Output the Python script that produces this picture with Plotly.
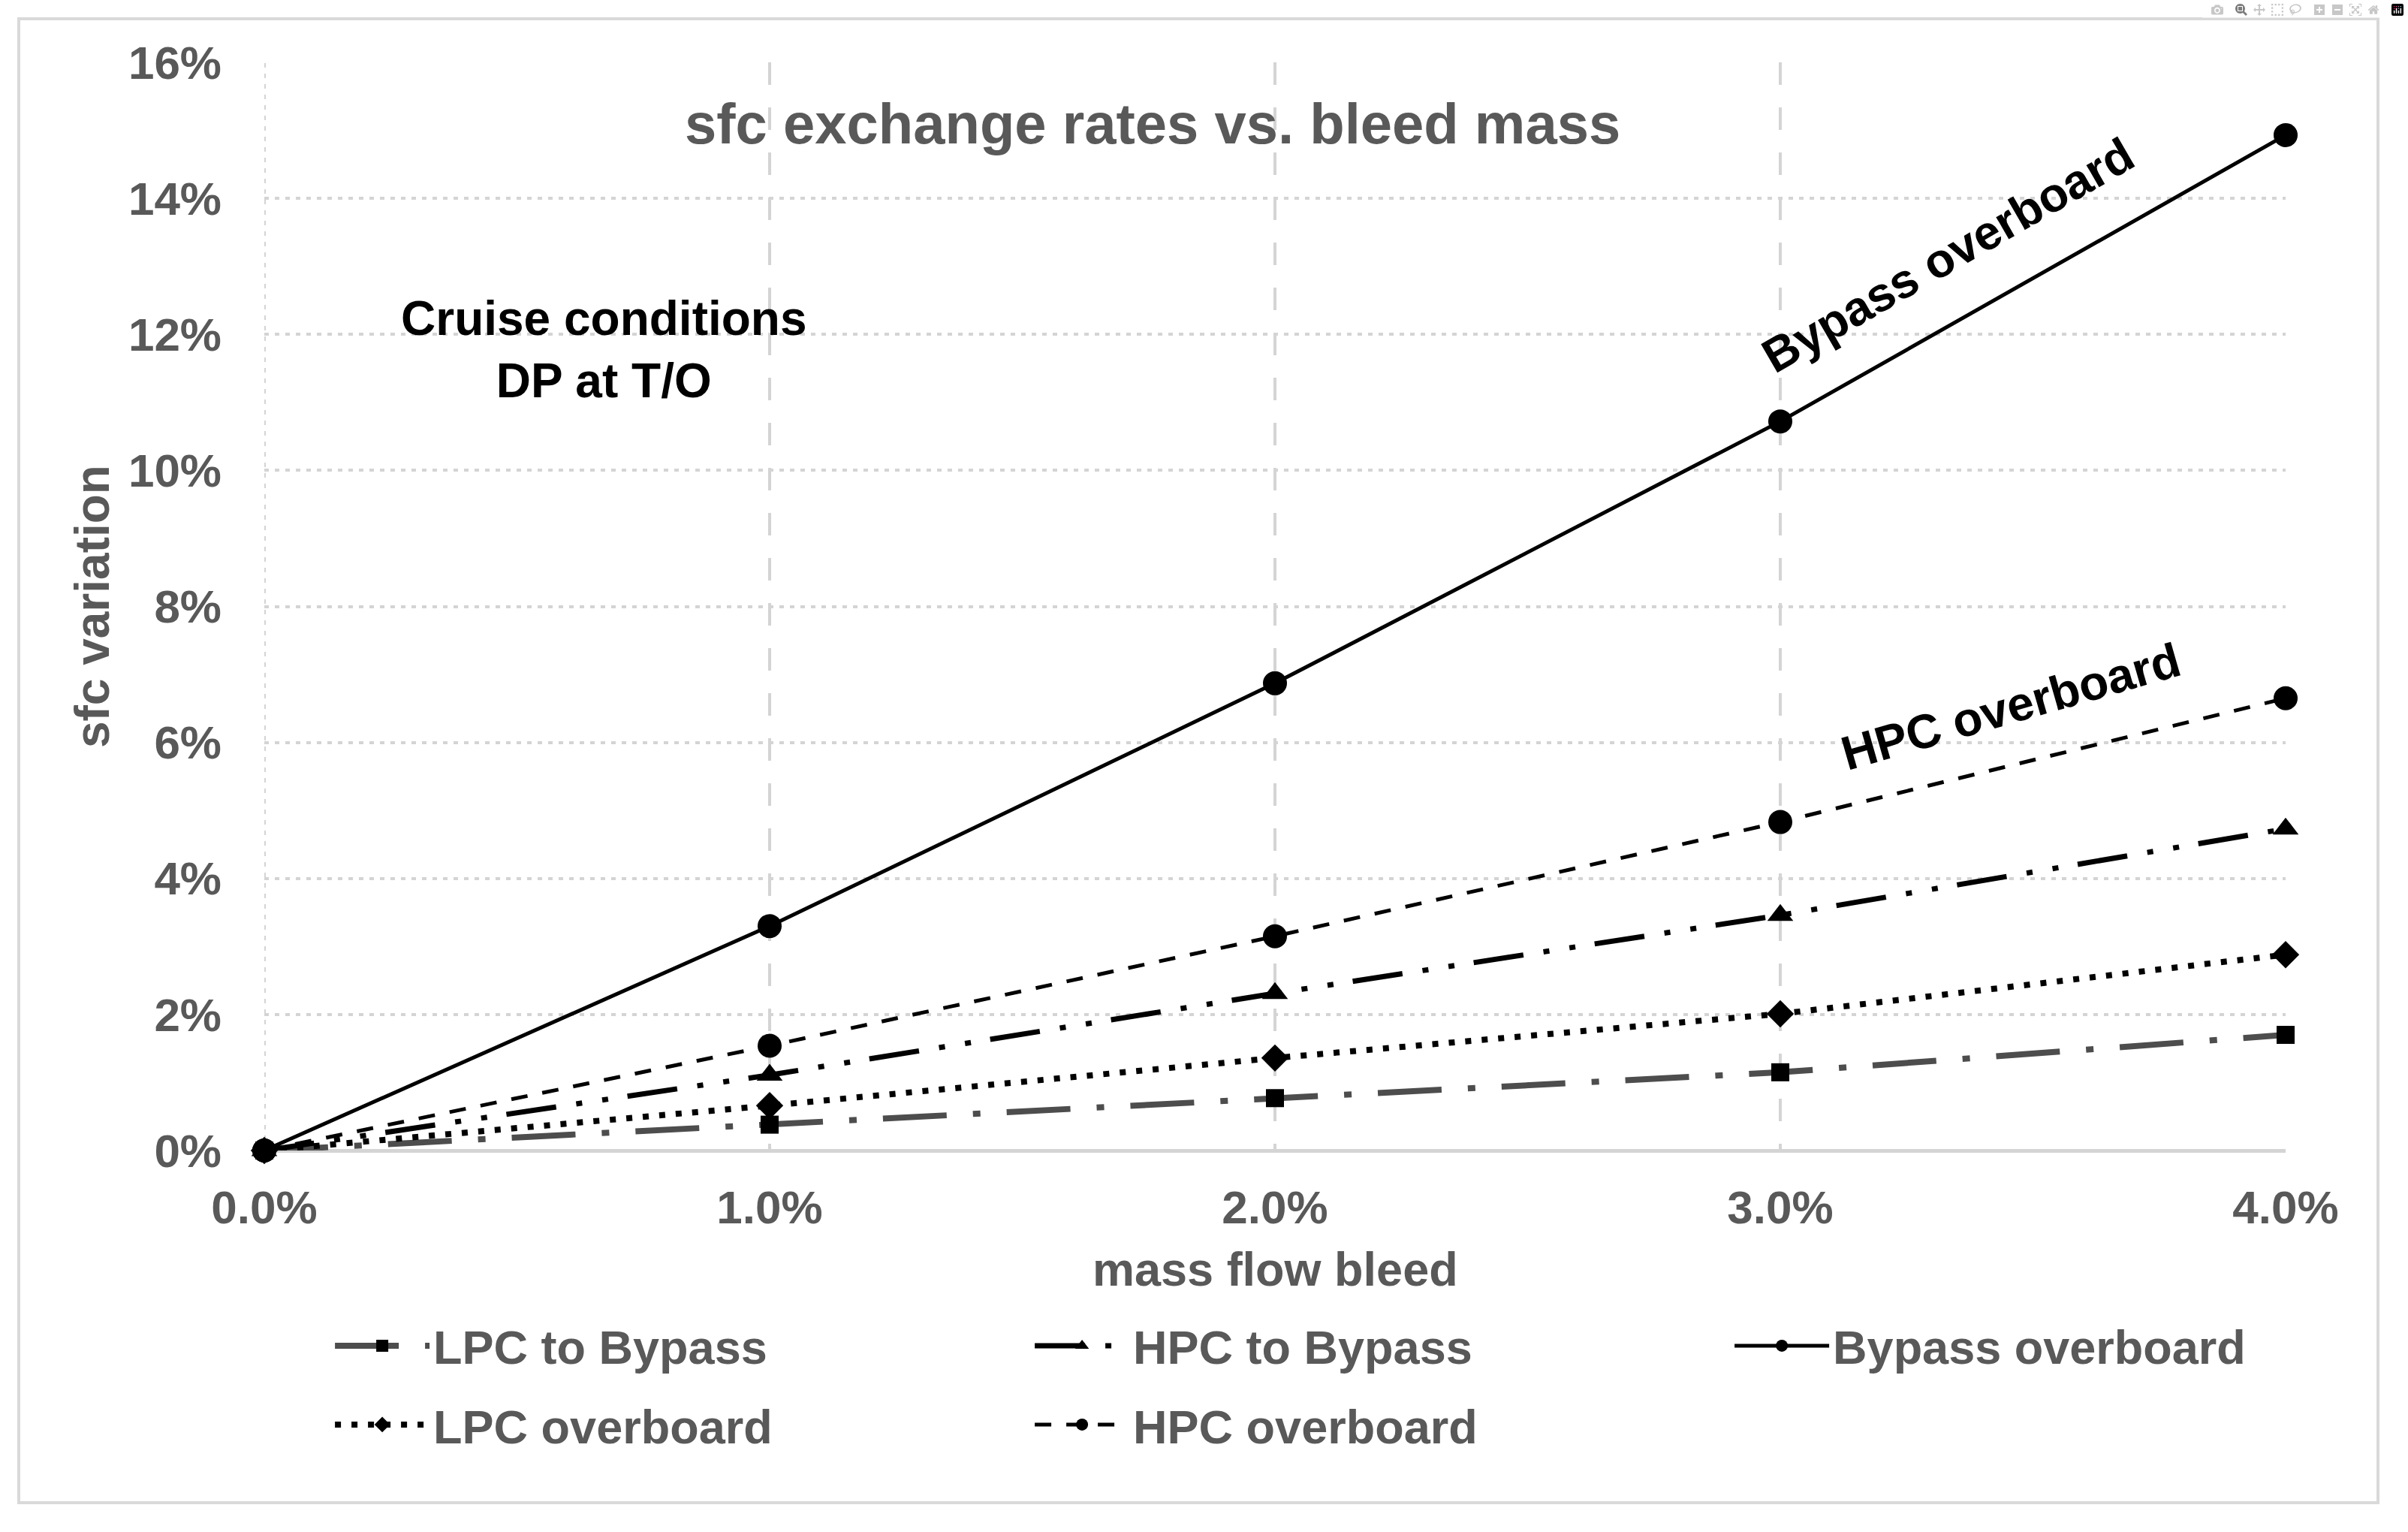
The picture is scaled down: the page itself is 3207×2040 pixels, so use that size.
import plotly.graph_objects as go

# ---------------- data ----------------
mass_flow_bleed = [0.0, 1.0, 2.0, 3.0, 4.0]          # % bleed
lpc_to_bypass = [0.0, 0.38, 0.77, 1.15, 1.70]        # % sfc variation
hpc_to_bypass = [0.0, 1.11, 2.31, 3.46, 4.73]
bypass_overboard = [0.0, 3.30, 6.87, 10.72, 14.93]
lpc_overboard = [0.0, 0.66, 1.36, 2.01, 2.88]
hpc_overboard = [0.0, 1.54, 3.15, 4.83, 6.65]

y_ticks = [0, 2, 4, 6, 8, 10, 12, 14, 16]
y_tick_labels = ["0%", "2%", "4%", "6%", "8%", "10%", "12%", "14%", "16%"]
x_ticks = [0, 1, 2, 3, 4]
x_tick_labels = ["0.0%", "1.0%", "2.0%", "3.0%", "4.0%"]

FONT = "Liberation Sans"
GRAY = "#595959"
GRID = "#d4d4d4"

W, H = 3207, 2040
L, R, T, B = 352, 163, 83, 508
PW, PH = W - L - R, H - T - B

fig = go.Figure()

series = [
    ("LPC to Bypass", lpc_to_bypass, dict(color="#4d4d4d", width=8, dash="85px,35px,10px,35px"),
     dict(symbol="square", size=24, color="black"), "legend", 791),
    ("HPC to Bypass", hpc_to_bypass, dict(color="black", width=7, dash="67px,27px,8px,27px,8px,26px"),
     dict(symbol="triangle-up", size=30, color="black"), "legend", 791),
    ("Bypass overboard", bypass_overboard, dict(color="black", width=5),
     dict(symbol="circle", size=32, color="black"), "legend", 600),
    ("LPC overboard", lpc_overboard, dict(color="black", width=8, dash="8px,14px"),
     dict(symbol="diamond", size=28, color="black"), "legend2", 791),
    ("HPC overboard", hpc_overboard, dict(color="black", width=5, dash="22px,20px"),
     dict(symbol="circle", size=32, color="black"), "legend2", 791),
]

for name, vals, line, marker, leg, lw in series:
    fig.add_trace(go.Scatter(
        x=mass_flow_bleed, y=vals, name=name, mode="lines+markers",
        line=line, marker=marker, legend=leg, legendwidth=lw, cliponaxis=False,
    ))

axis_font = dict(family=FONT, size=62, color=GRAY, weight="bold")
legend_font = dict(family=FONT, size=63, color=GRAY, weight="bold")

fig.update_layout(
    width=W, height=H,
    margin=dict(l=L, r=R, t=T, b=B, autoexpand=False),
    paper_bgcolor="white", plot_bgcolor="white",
    font=dict(family=FONT, color=GRAY),
    showlegend=True,
    xaxis=dict(
        range=[0, 4], tickmode="array", tickvals=x_ticks, ticktext=x_tick_labels,
        tickfont=axis_font, ticklabelstandoff=34,
        showgrid=True, gridcolor=GRID, gridwidth=4, griddash="30px,30px",
        zeroline=True, zerolinecolor="rgba(0,0,0,0)", zerolinewidth=1,
        showline=False, ticks="",
    ),
    yaxis=dict(
        range=[0, 16], tickmode="array", tickvals=y_ticks, ticktext=y_tick_labels,
        tickfont=axis_font, ticklabelstandoff=56,
        showgrid=True, gridcolor=GRID, gridwidth=4, griddash="6px,8px",
        zeroline=True, zerolinecolor=GRID, zerolinewidth=5,
        showline=False, ticks="",
    ),
    legend=dict(
        orientation="h", x=0.0331, xanchor="left", y=-0.1794, yanchor="middle",
        font=legend_font, itemwidth=126, bgcolor="rgba(0,0,0,0)", borderwidth=0,
    ),
    legend2=dict(
        orientation="h", x=0.0331, xanchor="left", y=-0.2519, yanchor="middle",
        font=legend_font, itemwidth=126, bgcolor="rgba(0,0,0,0)", borderwidth=0,
    ),
)

# dotted vertical line at x = 0 (like the horizontal gridlines)
fig.add_shape(type="line", xref="x", yref="y", x0=0, x1=0, y0=0, y1=16,
              line=dict(color=GRID, width=4, dash="6px,8px"), layer="below")

# outer frame around the whole chart
fig.add_shape(type="rect", xref="paper", yref="paper",
              x0=(25 - L) / PW, x1=(3167 - L) / PW,
              y0=(H - B - 2001) / PH, y1=(H - B - 25) / PH,
              line=dict(color="#d9d9d9", width=4), layer="below")

# chart title
fig.add_annotation(text="sfc exchange rates vs. bleed mass", xref="paper", yref="paper",
                   x=0.4394, y=0.944, showarrow=False, xanchor="center", yanchor="middle",
                   font=dict(family=FONT, size=76, color=GRAY, weight="bold"))

# axis titles
fig.add_annotation(text="sfc variation", xref="paper", yref="paper",
                   x=-0.085, y=0.4997, showarrow=False, textangle=-90,
                   xanchor="center", yanchor="middle",
                   font=dict(family=FONT, size=64, color=GRAY, weight="bold"))
fig.add_annotation(text="mass flow bleed", xref="paper", yref="paper",
                   x=0.5, y=-0.109, showarrow=False, xanchor="center", yanchor="middle",
                   font=dict(family=FONT, size=63, color=GRAY, weight="bold"))

# in-plot notes
fig.add_annotation(text="Cruise conditions<br>DP at T/O", xref="paper", yref="paper",
                   x=0.168, y=0.7357, showarrow=False, xanchor="center", yanchor="middle",
                   align="center",
                   font=dict(family=FONT, size=64, color="black", weight="bold"))
fig.add_annotation(text="Bypass overboard", xref="paper", yref="paper",
                   x=0.8329, y=0.8227, showarrow=False, textangle=-30,
                   xanchor="center", yanchor="middle",
                   font=dict(family=FONT, size=64, color="black", weight="bold"))
fig.add_annotation(text="HPC overboard", xref="paper", yref="paper",
                   x=0.864, y=0.408, showarrow=False, textangle=-16,
                   xanchor="center", yanchor="middle",
                   font=dict(family=FONT, size=64, color="black", weight="bold"))

fig.write_html("out.html")

with open("out.html", "r", encoding="utf-8") as f:
    html = f.read()
html = html.replace("<head>", "<head><style>html,body{margin:0;padding:0;overflow:hidden;}</style>", 1)
with open("out.html", "w", encoding="utf-8") as f:
    f.write(html)
